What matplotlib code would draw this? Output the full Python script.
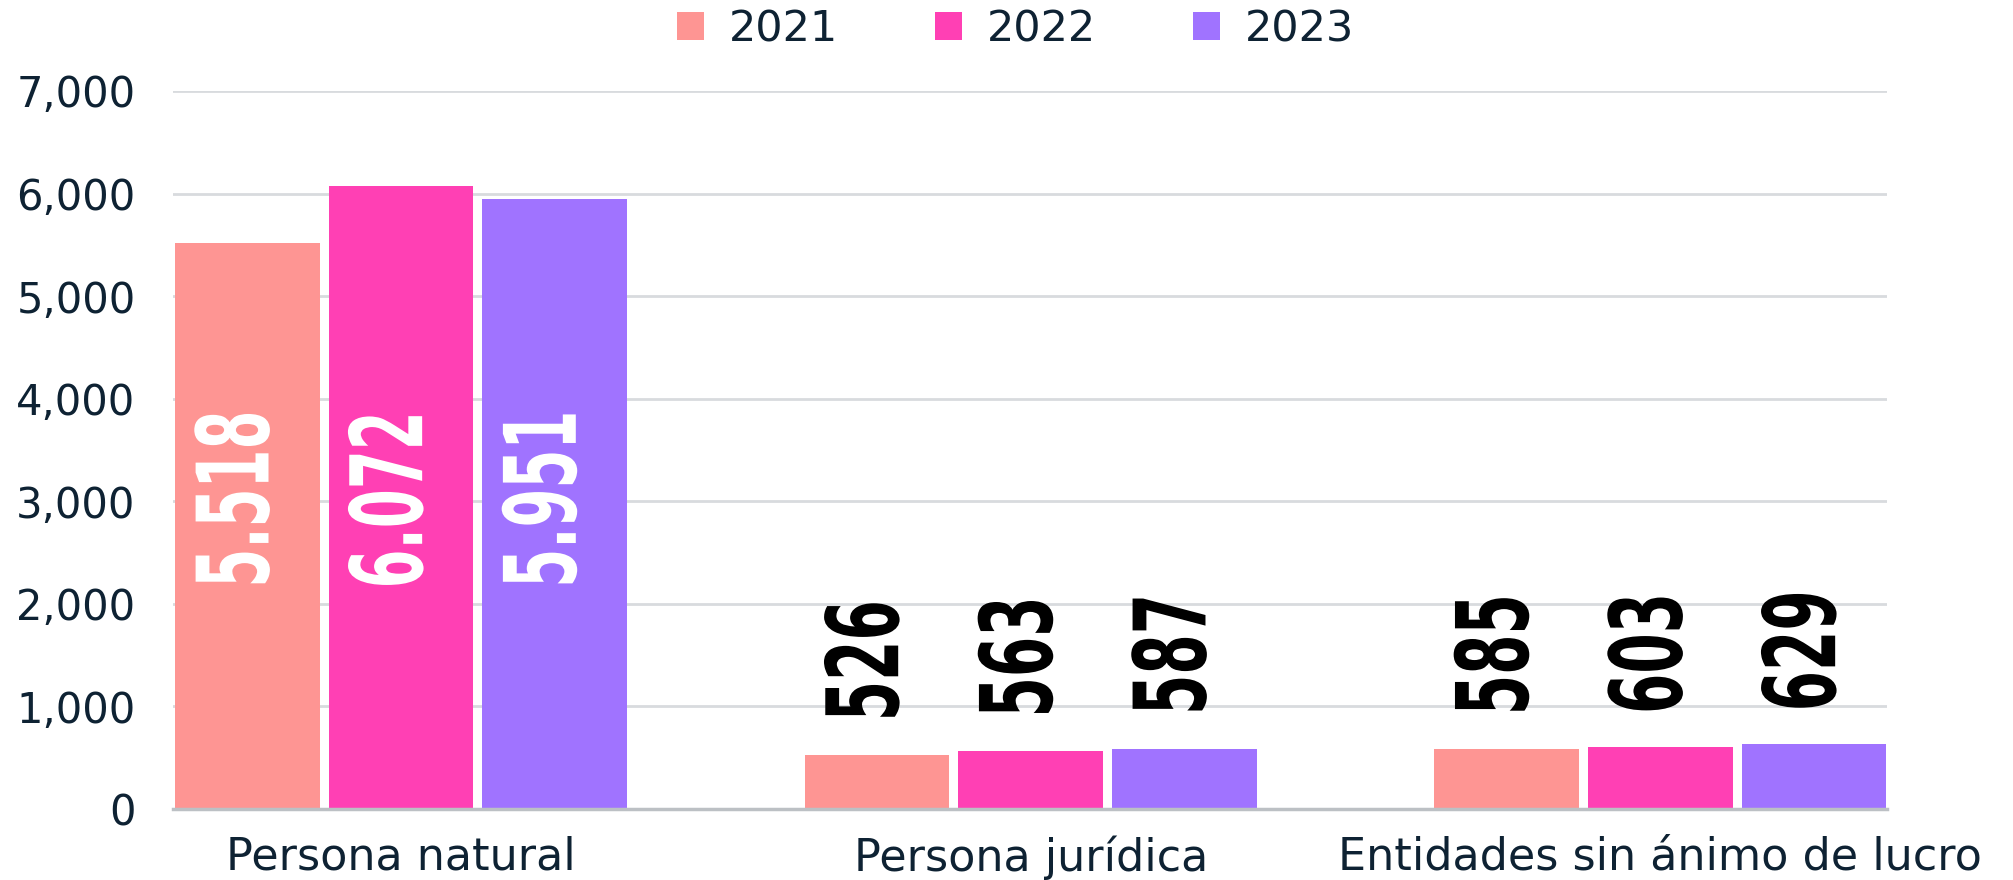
import matplotlib.pyplot as plt
import numpy as np
from matplotlib.patheffects import AbstractPathEffect
from matplotlib.transforms import Affine2D

# datos
categories = ['Persona natural', 'Persona jurídica', 'Entidades sin ánimo de lucro']
years = ['2021', '2022', '2023']
v2021 = [5518, 526, 585]
v2022 = [6072, 563, 603]
v2023 = [5951, 587, 629]
labels2021 = ['5.518', '526', '585']
labels2022 = ['6.072', '563', '603']
labels2023 = ['5.951', '587', '629']
yticks = [0, 1000, 2000, 3000, 4000, 5000, 6000, 7000]

series = [v2021, v2022, v2023]
series_labels = [labels2021, labels2022, labels2023]
colors = ['#fe9593', '#ff40b4', '#a073ff']
text_color = '#0e2233'
base_font = ['DejaVu Sans']


# estrecha el texto a lo largo de su dirección (fuente condensada)
class Squeeze(AbstractPathEffect):
    def __init__(self, sx, about='center'):
        super().__init__()
        self.sx = sx
        self.about = about

    def draw_path(self, renderer, gc, tpath, affine, rgbFace=None):
        ext = tpath.get_extents()
        cx = (ext.x0 + ext.x1) / 2 if self.about == 'center' else ext.x0
        sq = Affine2D().translate(-cx, 0).scale(self.sx, 1).translate(cx, 0)
        renderer.draw_path(gc, tpath, sq + affine, rgbFace)


x = np.arange(len(categories))
bar_w = 0.230
step = 0.244

fig = plt.figure(figsize=(20.13, 8.8), dpi=100)
ax = fig.add_axes([173 / 2013, 1 - 809 / 880, (1887 - 173) / 2013, (809 - 91) / 880])

for i, (vals, labs) in enumerate(zip(series, series_labels)):
    xs = x + (i - 1) * step
    ax.bar(xs, vals, width=bar_w, color=colors[i], label=years[i], zorder=2)
    for xi, v, lab in zip(xs, vals, labs):
        if v > 1000:
            ax.text(xi - 0.01, 3020, lab, rotation=90, ha='center', va='center',
                    color='white', fontsize=72, fontweight='bold', family=base_font,
                    path_effects=[Squeeze(0.56)])
        else:
            ax.annotate(lab, (xi - 0.01, v), xytext=(0, 22), textcoords='offset points',
                        rotation=90, ha='center', va='bottom', color='black',
                        fontsize=72, fontweight='bold', family=base_font,
                        path_effects=[Squeeze(0.58, about='start')])

ax.set_xlim(-0.362, 2.36)
ax.set_ylim(0, 7000)
ax.set_yticks(yticks)
ax.set_yticklabels([f'{t:,}' for t in yticks], family=base_font, fontsize=30, color=text_color)
ax.set_xticks(x)
ax.set_xticklabels(categories, family=base_font, fontsize=32, color=text_color)
ax.tick_params(axis='both', length=0)
ax.tick_params(axis='y', pad=27)
ax.tick_params(axis='x', pad=19)
ax.yaxis.grid(True, color='#d8dbde', lw=2)
ax.set_axisbelow(True)
for s in ['top', 'right', 'left']:
    ax.spines[s].set_visible(False)
ax.spines['bottom'].set_color('#bcc0c4')
ax.spines['bottom'].set_linewidth(2.5)
ax.spines['bottom'].set_zorder(3)

leg = fig.legend(loc='center', bbox_to_anchor=(0.5045, 0.967), ncol=3, frameon=False,
                 handlelength=0.63, handleheight=0.6, handletextpad=0.58, columnspacing=2.25,
                 prop={'family': base_font, 'size': 31})
for t in leg.get_texts():
    t.set_color(text_color)

fig.savefig('out.png', dpi=100)
